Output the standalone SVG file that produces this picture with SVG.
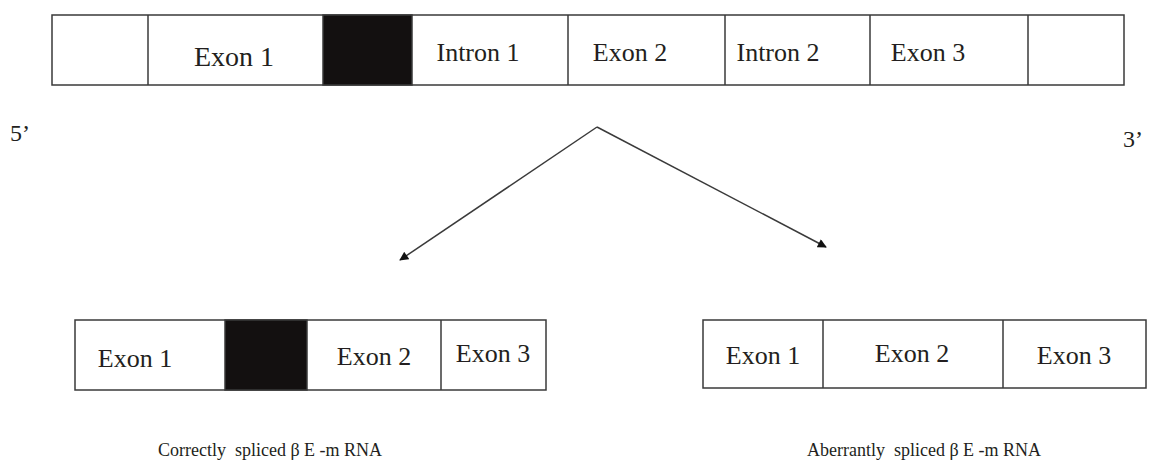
<svg xmlns="http://www.w3.org/2000/svg" width="1153" height="462" viewBox="0 0 1153 462">
<style>
.box{fill:#fff;stroke:#3a3a3a;stroke-width:1.5}
.blk{fill:#131010;stroke:#3a3a3a;stroke-width:1.5}
.div{stroke:#3a3a3a;stroke-width:1.5}
.t{font-family:"Liberation Serif","Times New Roman",serif;font-size:26px;fill:#231f20;text-anchor:middle}
.c{font-family:"Liberation Serif","Times New Roman",serif;font-size:18px;fill:#231f20;text-anchor:middle}
.lbl{font-family:"Liberation Serif","Times New Roman",serif;font-size:24px;fill:#231f20}
.con{stroke:#3a3a3a;stroke-width:1.5;fill:none}
</style>
<defs>
<marker id="arr" viewBox="0 0 10 10" refX="9" refY="5" markerWidth="10" markerHeight="9" markerUnits="userSpaceOnUse" orient="auto">
<path d="M0,0 L10,5 L0,10 z" fill="#111"/>
</marker>
</defs>
<g id="gene">
<rect class="box" x="52" y="15" width="1072" height="70"/>
<rect class="blk" x="323" y="15" width="89" height="70"/>
<line class="div" x1="148" y1="15" x2="148" y2="85"/>
<line class="div" x1="568" y1="15" x2="568" y2="85"/>
<line class="div" x1="725" y1="15" x2="725" y2="85"/>
<line class="div" x1="870" y1="15" x2="870" y2="85"/>
<line class="div" x1="1028" y1="15" x2="1028" y2="85"/>
<text class="t" x="234" y="66" style="font-size:28px">Exon 1</text>
<text class="t" x="478" y="61">Intron 1</text>
<text class="t" x="630" y="61">Exon 2</text>
<text class="t" x="778" y="61">Intron 2</text>
<text class="t" x="928" y="61">Exon 3</text>
</g>
<g id="end5"><text class="lbl" x="10" y="141">5’</text></g>
<g id="end3"><text class="lbl" x="1123" y="147">3’</text></g>
<g id="connectors">
<line class="con" x1="597" y1="127" x2="400" y2="260" marker-end="url(#arr)"/>
<line class="con" x1="597" y1="127" x2="826" y2="247" marker-end="url(#arr)"/>
</g>
<g id="correct">
<rect class="box" x="75" y="320" width="471" height="70"/>
<rect class="blk" x="225" y="320" width="82" height="70"/>
<line class="div" x1="441" y1="320" x2="441" y2="390"/>
<text class="t" x="135" y="367">Exon 1</text>
<text class="t" x="374" y="365">Exon 2</text>
<text class="t" x="493" y="362">Exon 3</text>
</g>
<g id="aberrant">
<rect class="box" x="703" y="320" width="443" height="68"/>
<line class="div" x1="823" y1="320" x2="823" y2="388"/>
<line class="div" x1="1003" y1="320" x2="1003" y2="388"/>
<text class="t" x="763" y="364">Exon 1</text>
<text class="t" x="912" y="362">Exon 2</text>
<text class="t" x="1074" y="364">Exon 3</text>
</g>
<g id="caption-correct"><text class="c" x="270" y="456" xml:space="preserve">Correctly  spliced β E -m RNA</text></g>
<g id="caption-aberrant"><text class="c" x="924" y="456" xml:space="preserve">Aberrantly  spliced β E -m RNA</text></g>
</svg>
